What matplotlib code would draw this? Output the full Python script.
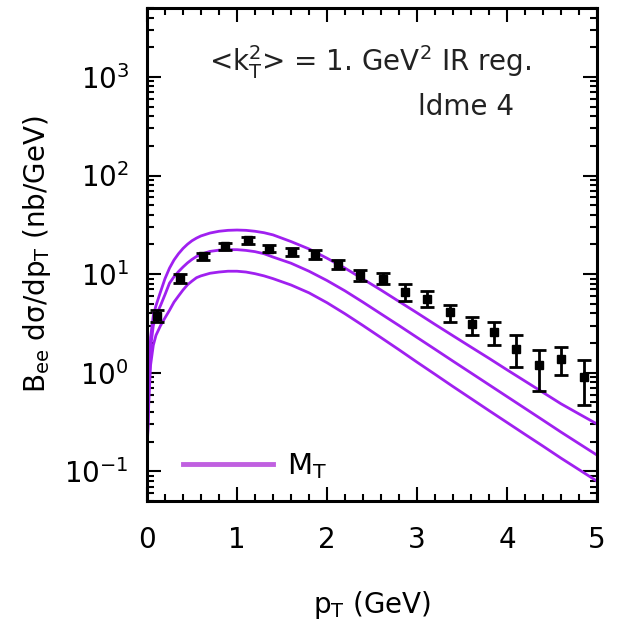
import matplotlib
matplotlib.use("Agg")
import matplotlib.pyplot as plt
from matplotlib.lines import Line2D
from matplotlib.ticker import MultipleLocator, LogLocator, NullFormatter
import numpy as np

# ---- data ----
pt_data = [0.11, 0.37, 0.62, 0.87, 1.12, 1.36, 1.61, 1.87, 2.12, 2.37,
           2.62, 2.87, 3.11, 3.37, 3.61, 3.86, 4.10, 4.35, 4.60, 4.85]
val_data = [3.8, 9.1, 15.1, 19.1, 22.0, 18.1, 16.7, 15.8, 12.6, 9.7,
            9.0, 6.6, 5.6, 4.1, 3.15, 2.6, 1.75, 1.19, 1.39, 0.90]
lo_data = [3.3, 8.2, 13.8, 17.6, 20.2, 16.6, 15.2, 14.4, 11.3, 8.6,
           7.9, 5.4, 4.6, 3.3, 2.4, 1.9, 1.14, 0.66, 0.94, 0.47]
hi_data = [4.3, 10.1, 16.5, 20.8, 24.0, 19.8, 18.3, 17.4, 14.0, 11.0,
           10.3, 8.0, 6.8, 4.9, 3.7, 3.3, 2.4, 1.7, 1.82, 1.34]

pt_curve = [0.005, 0.02, 0.04, 0.07, 0.1, 0.15, 0.2, 0.25, 0.3, 0.35,
            0.4, 0.45, 0.5, 0.55, 0.6, 0.7, 0.8, 0.9, 1.0, 1.1,
            1.2, 1.3, 1.4, 1.6, 1.8, 2.0, 2.2, 2.4, 2.6, 2.8,
            3.0, 3.2, 3.4, 3.6, 3.8, 4.0, 4.2, 4.4, 4.6, 4.8, 5.0]
curve_upper = [0.2, 0.9, 2.3, 3.8, 4.8, 6.6, 9.0, 11.5, 13.9, 16.1,
               18.2, 20.1, 21.8, 23.2, 24.4, 26.1, 27.2, 27.8, 28.0, 27.8,
               27.2, 26.3, 25.0, 21.4, 18.0, 14.5, 11.5, 8.91, 6.89, 5.28,
               4.05, 3.09, 2.37, 1.82, 1.40, 1.07, 0.822, 0.631, 0.484, 0.382, 0.302]
curve_middle = [0.2, 0.7, 1.8, 3.0, 3.8, 4.8, 6.2, 8.1, 9.4, 10.6,
                11.8, 13.0, 14.1, 15.1, 15.9, 17.0, 17.5, 17.7, 17.7, 17.4,
                16.9, 16.1, 14.9, 12.9, 10.7, 8.61, 6.76, 5.19, 3.95, 3.01,
                2.28, 1.73, 1.31, 0.995, 0.755, 0.573, 0.435, 0.330, 0.250, 0.191, 0.146]
curve_lower = [0.2, 0.5, 1.2, 1.9, 2.4, 3.0, 3.6, 4.3, 5.2, 6.0,
               6.9, 7.8, 8.5, 9.2, 9.6, 10.2, 10.5, 10.7, 10.7, 10.5,
               10.1, 9.6, 9.0, 7.76, 6.46, 5.13, 3.96, 3.01, 2.27, 1.71,
               1.28, 0.964, 0.724, 0.547, 0.413, 0.313, 0.237, 0.180, 0.136, 0.104, 0.0794]

xticks = [0, 1, 2, 3, 4, 5]

# ---- figure ----
plt.rcParams['font.family'] = ['DejaVu Sans']
plt.rcParams['mathtext.fontset'] = 'dejavusans'
plt.rcParams['mathtext.default'] = 'regular'

fig = plt.figure(figsize=(6.21, 6.21), dpi=100)
ax = fig.add_axes([147/621, 1 - 501/621, 450/621, 493/621])

curve_color = '#a020f0'
for c in (curve_upper, curve_middle, curve_lower):
    ax.plot(pt_curve, c, color=curve_color, lw=2.0, solid_joinstyle='round')

val = np.array(val_data)
yerr = [val - np.array(lo_data), np.array(hi_data) - val]
ax.errorbar(pt_data, val_data, yerr=yerr, fmt='s', color='black', ms=6,
            elinewidth=2, capsize=5, capthick=2, zorder=5)

ax.set_yscale('log')
ax.set_xlim(0, 5)
ax.set_ylim(0.05, 5000)
ax.set_xticks(xticks)
ax.xaxis.set_minor_locator(MultipleLocator(0.2))
ax.yaxis.set_major_locator(LogLocator(base=10, numticks=10))
ax.yaxis.set_minor_locator(LogLocator(base=10, subs=np.arange(2, 10), numticks=20))
ax.yaxis.set_minor_formatter(NullFormatter())

ax.tick_params(which='both', direction='in', top=True, right=True, width=1.5)
ax.tick_params(which='major', length=10, labelsize=20)
ax.tick_params(axis='x', which='major', pad=18)
ax.tick_params(axis='y', which='major', pad=13)
ax.tick_params(which='minor', length=5)
for s in ax.spines.values():
    s.set_linewidth(2.2)

ax.set_xlabel(r'p$_\mathrm{T}$ (GeV)', fontsize=20)
ax.xaxis.set_label_coords(0.5, -0.178)
ax.set_ylabel(r'B$_\mathrm{ee}$ dσ/dp$_\mathrm{T}$ (nb/GeV)', fontsize=20)
ax.yaxis.set_label_coords(-0.245, 0.5)
ax.yaxis.label.set_va('center')

ax.text(0.495, 0.89, r'<k$_\mathrm{T}^2$> = 1. GeV$^2$ IR reg.', transform=ax.transAxes,
        fontsize=20, ha='center', va='center', color='#222222')
ax.text(0.71, 0.80, 'ldme 4', transform=ax.transAxes,
        fontsize=20, ha='center', va='center', color='#222222')

h = Line2D([], [], color='#c060e0', lw=3.5)
ax.legend(handles=[h], labels=[r'M$_\mathrm{T}$'], loc='center left',
          bbox_to_anchor=(0.08, 0.071), frameon=False, fontsize=21,
          handlelength=3.1, handletextpad=0.45, borderpad=0, borderaxespad=0)

fig.savefig('out.png', dpi=100)
